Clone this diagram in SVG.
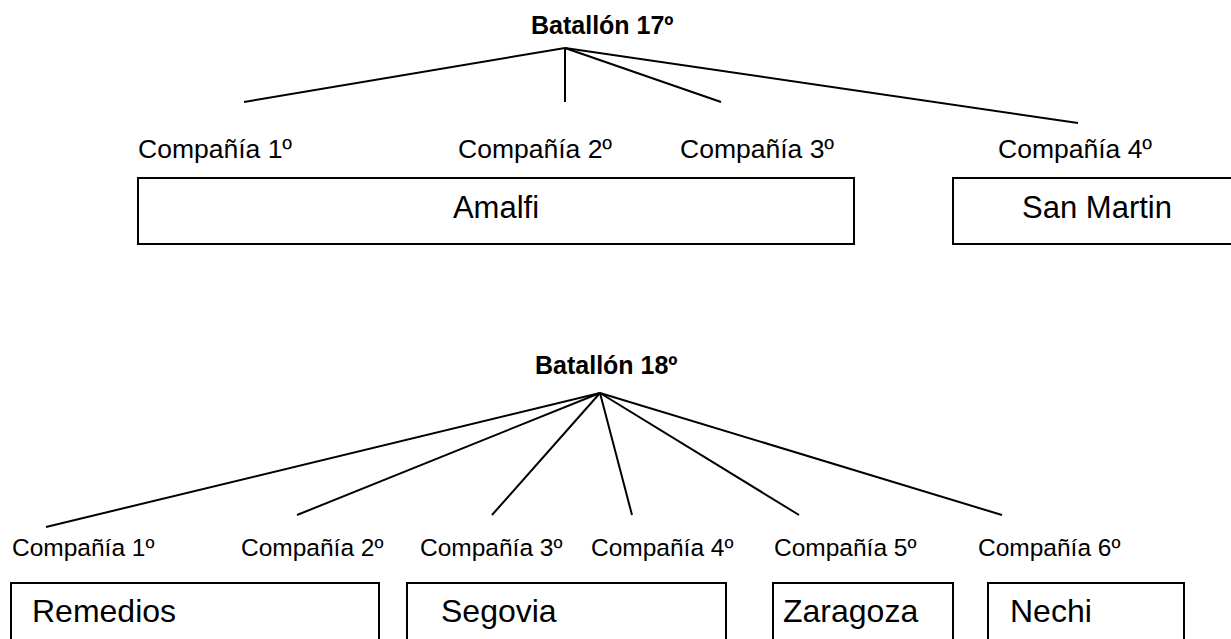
<svg xmlns="http://www.w3.org/2000/svg" width="1231" height="639" viewBox="0 0 1231 639">
  <style>
    .bg { fill: #ffffff; }
    .title { font-family: "Liberation Sans", Arial, sans-serif; font-weight: bold; font-size: 25px; fill: #000; }
    .lbl-top { font-family: "Liberation Sans", Arial, sans-serif; font-size: 26.5px; fill: #000; }
    .lbl-bot { font-family: "Liberation Sans", Arial, sans-serif; font-size: 24.5px; fill: #000; }
    .box { fill: #ffffff; stroke: #000; stroke-width: 2; }
    .name-top { font-family: "Liberation Sans", Arial, sans-serif; font-size: 31px; fill: #000; }
    .name-bot { font-family: "Liberation Sans", Arial, sans-serif; font-size: 32px; fill: #000; }
    .link { stroke: #000; stroke-width: 2; fill: none; }
  </style>
  <rect class="bg" x="0" y="0" width="1231" height="639"/>

  <!-- Battalion 17 -->
  <g id="batallon17">
    <text class="title" x="531" y="34">Batallón 17º</text>
  </g>
  <g id="connectors17">
    <line class="link" x1="565" y1="48" x2="244" y2="102"/>
    <line class="link" x1="565" y1="48" x2="565" y2="102"/>
    <line class="link" x1="565" y1="48" x2="721" y2="102"/>
    <line class="link" x1="565" y1="48" x2="1078" y2="123"/>
  </g>
  <g id="b17-comp1"><text class="lbl-top" x="138" y="158">Compañía 1º</text></g>
  <g id="b17-comp2"><text class="lbl-top" x="458" y="158">Compañía 2º</text></g>
  <g id="b17-comp3"><text class="lbl-top" x="680" y="158">Compañía 3º</text></g>
  <g id="b17-comp4"><text class="lbl-top" x="998" y="158">Compañía 4º</text></g>
  <g id="amalfi">
    <rect class="box" x="138" y="178" width="716" height="66"/>
    <text class="name-top" x="496" y="218" text-anchor="middle">Amalfi</text>
  </g>
  <g id="san-martin">
    <rect class="box" x="953" y="178" width="290" height="66"/>
    <text class="name-top" x="1097" y="218" text-anchor="middle">San Martin</text>
  </g>

  <!-- Battalion 18 -->
  <g id="batallon18">
    <text class="title" x="535" y="374">Batallón 18º</text>
  </g>
  <g id="connectors18">
    <line class="link" x1="600" y1="393" x2="46" y2="527"/>
    <line class="link" x1="600" y1="393" x2="297" y2="515"/>
    <line class="link" x1="600" y1="393" x2="492" y2="515"/>
    <line class="link" x1="600" y1="393" x2="632" y2="515"/>
    <line class="link" x1="600" y1="393" x2="799" y2="515"/>
    <line class="link" x1="600" y1="393" x2="1002" y2="515"/>
  </g>
  <g id="b18-comp1"><text class="lbl-bot" x="12" y="556">Compañía 1º</text></g>
  <g id="b18-comp2"><text class="lbl-bot" x="241" y="556">Compañía 2º</text></g>
  <g id="b18-comp3"><text class="lbl-bot" x="420" y="556">Compañía 3º</text></g>
  <g id="b18-comp4"><text class="lbl-bot" x="591" y="556">Compañía 4º</text></g>
  <g id="b18-comp5"><text class="lbl-bot" x="774" y="556">Compañía 5º</text></g>
  <g id="b18-comp6"><text class="lbl-bot" x="978" y="556">Compañía 6º</text></g>
  <g id="remedios">
    <rect class="box" x="11" y="583" width="368" height="70"/>
    <text class="name-bot" x="32" y="622">Remedios</text>
  </g>
  <g id="segovia">
    <rect class="box" x="407" y="583" width="319" height="70"/>
    <text class="name-bot" x="441" y="622">Segovia</text>
  </g>
  <g id="zaragoza">
    <rect class="box" x="773" y="583" width="180" height="70"/>
    <text class="name-bot" x="783" y="622">Zaragoza</text>
  </g>
  <g id="nechi">
    <rect class="box" x="988" y="583" width="196" height="70"/>
    <text class="name-bot" x="1010" y="622">Nechi</text>
  </g>
</svg>
